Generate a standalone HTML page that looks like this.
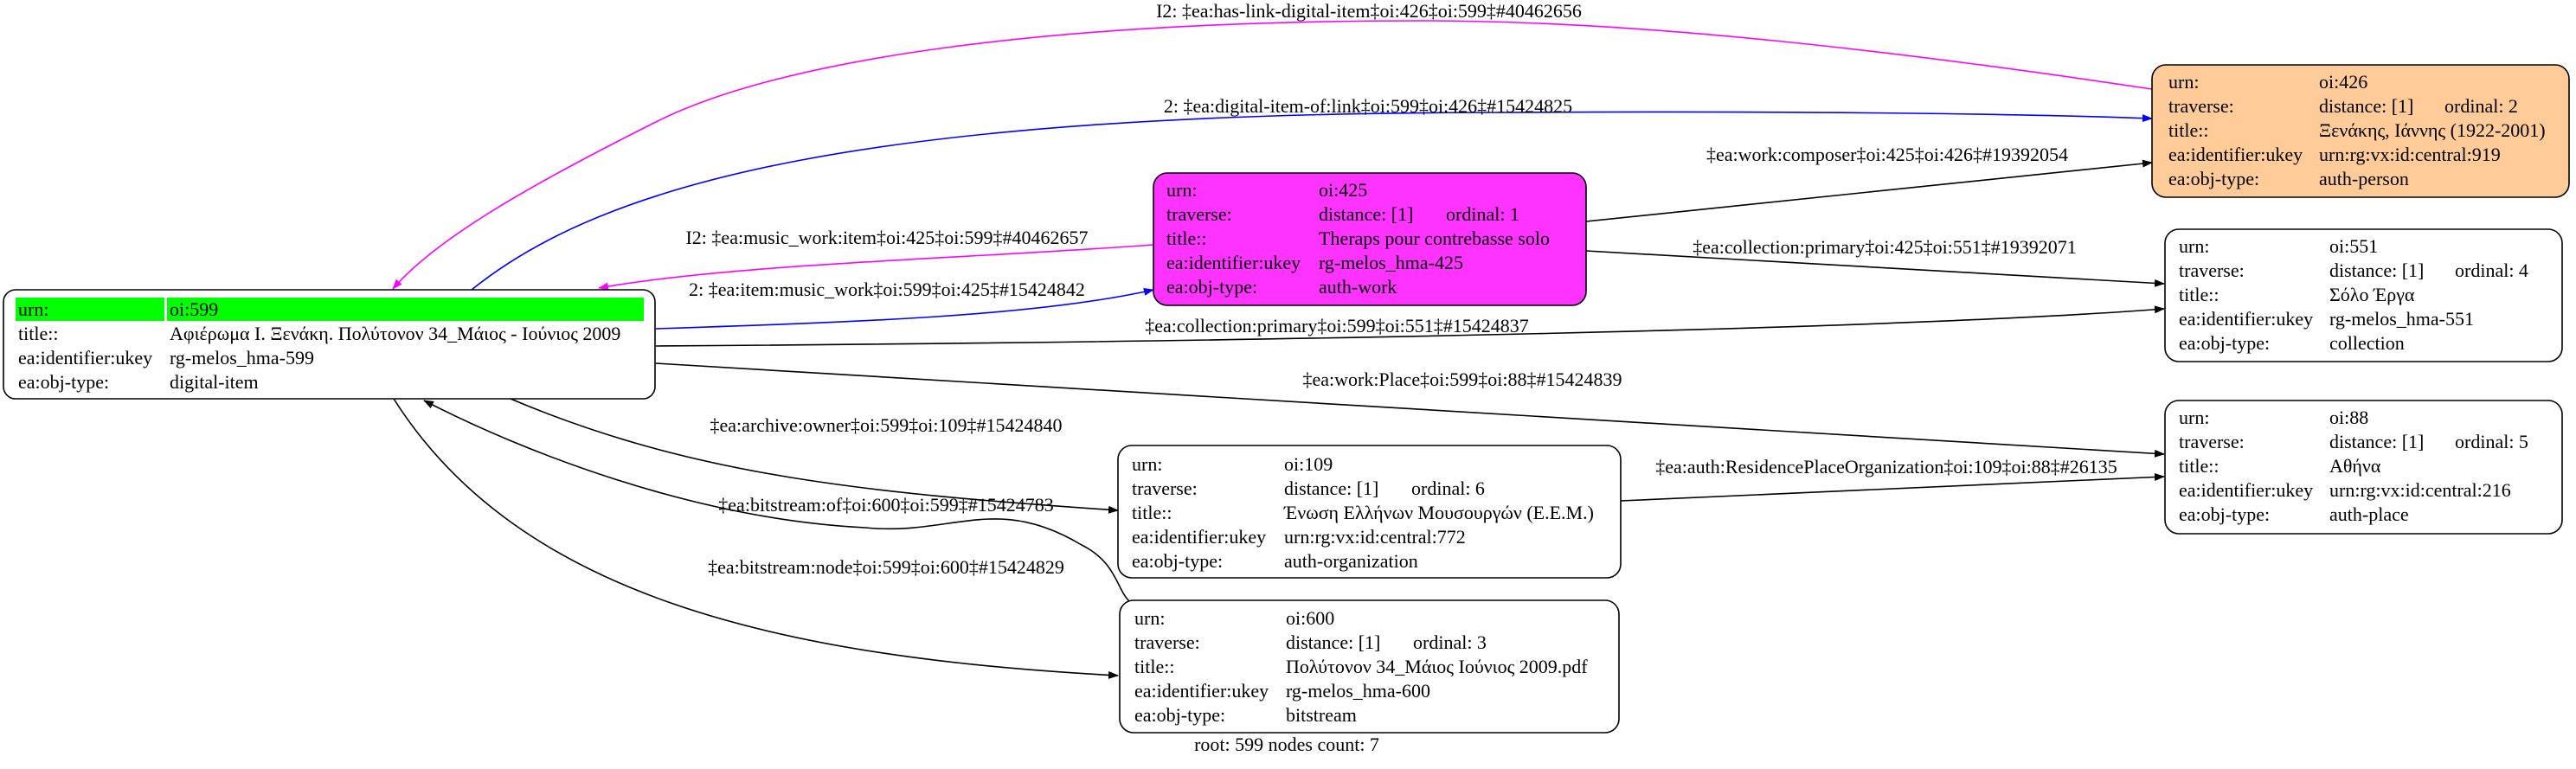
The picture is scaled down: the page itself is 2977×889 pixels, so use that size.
<!DOCTYPE html>
<html><head><meta charset="utf-8"><style>
html,body{margin:0;padding:0;background:#fff}
svg text{font-family:"Liberation Serif","DejaVu Serif",serif;font-size:22px;fill:#000}
</style></head><body>
<svg width="2977" height="884" viewBox="0 0 2977 884" xmlns="http://www.w3.org/2000/svg">
<defs>
<marker id="ab" markerWidth="12" markerHeight="9" refX="11" refY="4.5" orient="auto" markerUnits="userSpaceOnUse" viewBox="0 0 12 9"><path d="M0,0 L12,4.5 L0,9 z" fill="#000"/></marker>
<marker id="am" markerWidth="12" markerHeight="9" refX="11" refY="4.5" orient="auto" markerUnits="userSpaceOnUse" viewBox="0 0 12 9"><path d="M0,0 L12,4.5 L0,9 z" fill="#ff00ff"/></marker>
<marker id="au" markerWidth="12" markerHeight="9" refX="11" refY="4.5" orient="auto" markerUnits="userSpaceOnUse" viewBox="0 0 12 9"><path d="M0,0 L12,4.5 L0,9 z" fill="#0000ff"/></marker>
</defs>
<g fill="none" stroke-width="1.6">
<path d="M2487,103 C2200,60 1900,24 1645,24 C1200,24 900,70 760,140 C600,220 500,280 454,334" stroke="#ff00ff" marker-end="url(#am)"/>
<path d="M545,335 C700,210 1000,130 1739,130 C2100,128 2350,132 2487,137" stroke="#0000ff" marker-end="url(#au)"/>
<path d="M1333,283 C1100,300 850,305 692,333" stroke="#ff00ff" marker-end="url(#am)"/>
<path d="M758,380 C1000,372 1200,365 1333,335" stroke="#0000ff" marker-end="url(#au)"/>
<path d="M1833,256 L2487,188" stroke="#000" marker-end="url(#ab)"/>
<path d="M1833,290 L2501,328" stroke="#000" marker-end="url(#ab)"/>
<path d="M758,400 C1500,395 2200,380 2501,357" stroke="#000" marker-end="url(#ab)"/>
<path d="M758,420 L2501,525" stroke="#000" marker-end="url(#ab)"/>
<path d="M590,461 C800,550 1000,570 1292,590" stroke="#000" marker-end="url(#ab)"/>
<path d="M1873,579 L2501,551" stroke="#000" marker-end="url(#ab)"/>
<path d="M1305,695 C1290,680 1290,650 1250,630 C1150,570 1100,620 1000,610 C800,600 600,520 490,463" stroke="#000" marker-end="url(#ab)"/>
<path d="M455,461 C600,690 900,760 1292,781" stroke="#000" marker-end="url(#ab)"/>
</g>
<g text-anchor="middle">
<text x="1582" y="20">I2: ‡ea:has-link-digital-item‡oi:426‡oi:599‡#40462656</text>
<text x="1581" y="130">2: ‡ea:digital-item-of:link‡oi:599‡oi:426‡#15424825</text>
<text x="2181" y="186">‡ea:work:composer‡oi:425‡oi:426‡#19392054</text>
<text x="2178" y="293">‡ea:collection:primary‡oi:425‡oi:551‡#19392071</text>
<text x="1025" y="282">I2: ‡ea:music_work:item‡oi:425‡oi:599‡#40462657</text>
<text x="1025" y="342">2: ‡ea:item:music_work‡oi:599‡oi:425‡#15424842</text>
<text x="1545" y="384">‡ea:collection:primary‡oi:599‡oi:551‡#15424837</text>
<text x="1690" y="446">‡ea:work:Place‡oi:599‡oi:88‡#15424839</text>
<text x="1024" y="499">‡ea:archive:owner‡oi:599‡oi:109‡#15424840</text>
<text x="2180" y="547">‡ea:auth:ResidencePlaceOrganization‡oi:109‡oi:88‡#26135</text>
<text x="1024" y="591">‡ea:bitstream:of‡oi:600‡oi:599‡#15424783</text>
<text x="1024" y="663">‡ea:bitstream:node‡oi:599‡oi:600‡#15424829</text>
<text x="1487" y="868">root: 599 nodes count: 7</text>
</g>
<!-- N599 -->
<rect x="4" y="335" width="753" height="126" rx="14" fill="#fff" stroke="#000" stroke-width="1.6"/>
<rect x="18" y="344" width="172" height="27" fill="#00ff00"/>
<rect x="193" y="344" width="551" height="27" fill="#00ff00"/>
<g><text x="21" y="365">urn:</text><text x="196" y="365">oi:599</text>
<text x="21" y="393">title::</text><text x="196" y="393">Αφιέρωμα Ι. Ξενάκη. Πολύτονον 34_Μάιος - Ιούνιος 2009</text>
<text x="21" y="421">ea:identifier:ukey</text><text x="196" y="421">rg-melos_hma-599</text>
<text x="21" y="449">ea:obj-type:</text><text x="196" y="449">digital-item</text></g>
<!-- N425 -->
<rect x="1333" y="200" width="500" height="153" rx="16" fill="#ff33ff" stroke="#000" stroke-width="1.6"/>
<g><text x="1348" y="227">urn:</text><text x="1524" y="227">oi:425</text>
<text x="1348" y="255">traverse:</text><text x="1524" y="255">distance: [1]</text><text x="1671" y="255">ordinal: 1</text>
<text x="1348" y="283">title::</text><text x="1524" y="283">Theraps pour contrebasse solo</text>
<text x="1348" y="311">ea:identifier:ukey</text><text x="1524" y="311">rg-melos_hma-425</text>
<text x="1348" y="339">ea:obj-type:</text><text x="1524" y="339">auth-work</text></g>
<!-- N426 -->
<rect x="2487" y="75" width="482" height="153" rx="16" fill="#ffcc99" stroke="#000" stroke-width="1.6"/>
<g><text x="2506" y="102">urn:</text><text x="2680" y="102">oi:426</text>
<text x="2506" y="130">traverse:</text><text x="2680" y="130">distance: [1]</text><text x="2825" y="130">ordinal: 2</text>
<text x="2506" y="158">title::</text><text x="2680" y="158">Ξενάκης, Ιάννης (1922-2001)</text>
<text x="2506" y="186">ea:identifier:ukey</text><text x="2680" y="186">urn:rg:vx:id:central:919</text>
<text x="2506" y="214">ea:obj-type:</text><text x="2680" y="214">auth-person</text></g>
<!-- N551 -->
<rect x="2502" y="265" width="459" height="153" rx="16" fill="#fff" stroke="#000" stroke-width="1.6"/>
<g><text x="2518" y="292">urn:</text><text x="2692" y="292">oi:551</text>
<text x="2518" y="320">traverse:</text><text x="2692" y="320">distance: [1]</text><text x="2837" y="320">ordinal: 4</text>
<text x="2518" y="348">title::</text><text x="2692" y="348">Σόλο Έργα</text>
<text x="2518" y="376">ea:identifier:ukey</text><text x="2692" y="376">rg-melos_hma-551</text>
<text x="2518" y="404">ea:obj-type:</text><text x="2692" y="404">collection</text></g>
<!-- N88 -->
<rect x="2502" y="463" width="459" height="154" rx="16" fill="#fff" stroke="#000" stroke-width="1.6"/>
<g><text x="2518" y="490">urn:</text><text x="2692" y="490">oi:88</text>
<text x="2518" y="518">traverse:</text><text x="2692" y="518">distance: [1]</text><text x="2837" y="518">ordinal: 5</text>
<text x="2518" y="546">title::</text><text x="2692" y="546">Αθήνα</text>
<text x="2518" y="574">ea:identifier:ukey</text><text x="2692" y="574">urn:rg:vx:id:central:216</text>
<text x="2518" y="602">ea:obj-type:</text><text x="2692" y="602">auth-place</text></g>
<!-- N109 -->
<rect x="1292" y="515" width="581" height="153" rx="16" fill="#fff" stroke="#000" stroke-width="1.6"/>
<g><text x="1308" y="544">urn:</text><text x="1484" y="544">oi:109</text>
<text x="1308" y="572">traverse:</text><text x="1484" y="572">distance: [1]</text><text x="1631" y="572">ordinal: 6</text>
<text x="1308" y="600">title::</text><text x="1484" y="600">Ένωση Ελλήνων Μουσουργών (Ε.Ε.Μ.)</text>
<text x="1308" y="628">ea:identifier:ukey</text><text x="1484" y="628">urn:rg:vx:id:central:772</text>
<text x="1308" y="656">ea:obj-type:</text><text x="1484" y="656">auth-organization</text></g>
<!-- N600 -->
<rect x="1294" y="694" width="577" height="153" rx="16" fill="#fff" stroke="#000" stroke-width="1.6"/>
<g><text x="1311" y="722">urn:</text><text x="1486" y="722">oi:600</text>
<text x="1311" y="750">traverse:</text><text x="1486" y="750">distance: [1]</text><text x="1633" y="750">ordinal: 3</text>
<text x="1311" y="778">title::</text><text x="1486" y="778">Πολύτονον 34_Μάιος Ιούνιος 2009.pdf</text>
<text x="1311" y="806">ea:identifier:ukey</text><text x="1486" y="806">rg-melos_hma-600</text>
<text x="1311" y="834">ea:obj-type:</text><text x="1486" y="834">bitstream</text></g>
</svg>
</body></html>
